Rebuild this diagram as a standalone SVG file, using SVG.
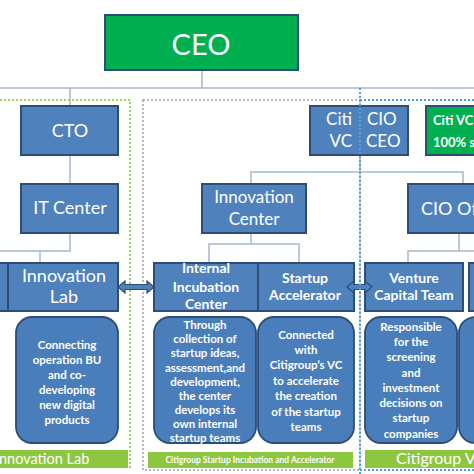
<svg xmlns="http://www.w3.org/2000/svg" width="474" height="474" viewBox="0 0 474 474">
<defs>
<style>
.box{fill:#4f81bd;stroke:#2c4d75;stroke-width:2}
.rbox{fill:#4a7ebb;stroke:#2c4d75;stroke-width:1.8}
.green{fill:#00b050;stroke:#2c4d75;stroke-width:2}
.lime{fill:#8dc63f;stroke:none}
.line{fill:none;stroke:#a6b8cd;stroke-width:1.5}
.arrow{fill:#4f81bd;stroke:#2c4d75;stroke-width:1.2}
text{font-family:Lato,"Open Sans","Liberation Sans",sans-serif;fill:#ffffff}
.t18{font-size:18px}
.t16{font-size:17px}
.t14{font-size:14px;font-weight:bold}
.t11{font-size:11.5px;font-weight:bold}
</style>
</defs>
<rect width="474" height="474" fill="#ffffff"/>

<!-- region borders -->
<g id="regions">
<polyline points="0,100 130,100 130,470" fill="none" stroke="#9bd250" stroke-width="2" stroke-dasharray="2,2"/>
<rect x="143" y="100" width="217" height="370" fill="none" stroke="#a0a0a0" stroke-width="1.5" stroke-dasharray="2,2"/>
<polyline points="360,100 476,100" fill="none" stroke="#4ba3dd" stroke-width="2" stroke-dasharray="2,2"/>
<polyline points="360,470 476,470" fill="none" stroke="#4ba3dd" stroke-width="2" stroke-dasharray="2,2"/>
</g>

<!-- connectors -->
<g id="connectors">
<line class="line" x1="0" y1="88" x2="474" y2="88"/>
<line class="line" x1="202" y1="70" x2="202" y2="88"/>
<line class="line" x1="70" y1="88" x2="70" y2="106"/>
<line class="line" x1="70" y1="155" x2="70" y2="184"/>
<polyline class="line" points="70,233 70,251 0,251"/>
<line class="line" x1="40" y1="251" x2="40" y2="263"/>
<line class="line" x1="360" y1="155" x2="360" y2="172"/>
<polyline class="line" points="251,184 251,172 463,172 463,184"/>
<polyline class="line" points="209,263 209,244 299,244 299,263"/>
<line class="line" x1="251" y1="233" x2="251" y2="244"/>
<polyline class="line" points="459,233 459,251 408,251 408,263"/>
<line class="line" x1="459" y1="251" x2="476" y2="251"/>
</g>

<g id="ceo">
<rect class="green" x="105" y="15" width="193" height="55"/>
<text x="201" y="55" font-size="29" text-anchor="middle">CEO</text>
</g>

<g id="cto">
<rect class="box" x="21" y="106" width="97" height="49"/>
<text class="t18" x="70" y="137" text-anchor="middle">CTO</text>
</g>

<g id="citivc-cio">
<rect class="box" x="310" y="106" width="98" height="49"/>
<text class="t16" x="352" y="125" text-anchor="end">Citi</text>
<text class="t16" x="352" y="147" text-anchor="end">VC</text>
<text class="t16" x="367" y="125">CIO</text>
<text class="t16" x="366" y="147">CEO</text>
</g>

<g id="citivc-sub">
<rect class="green" x="426" y="106" width="60" height="49"/>
<text x="433" y="125" font-size="13" font-weight="bold">Citi VC</text>
<text x="433" y="147" font-size="13" font-weight="bold">100% s</text>
</g>

<g id="it-center">
<rect class="box" x="21" y="184" width="97" height="49"/>
<text class="t18" x="70" y="214" text-anchor="middle">IT Center</text>
</g>

<g id="innovation-center">
<rect class="box" x="202" y="184" width="104" height="49"/>
<text class="t16" x="254" y="203" text-anchor="middle">Innovation</text>
<text class="t16" x="254" y="225" text-anchor="middle">Center</text>
</g>

<g id="cio-office">
<rect class="box" x="408" y="184" width="80" height="49"/>
<text class="t18" x="421" y="215">CIO Off</text>
</g>

<g id="left-stub">
<rect class="box" x="-10" y="263" width="18" height="48"/>
</g>

<g id="innovation-lab">
<rect class="box" x="8" y="263" width="110" height="48"/>
<text class="t18" x="64" y="282" text-anchor="middle">Innovation</text>
<text class="t18" x="64" y="303" text-anchor="middle">Lab</text>
</g>

<g id="internal-incubation">
<rect class="box" x="154" y="263" width="104" height="48"/>
<text class="t14" x="206" y="273" text-anchor="middle">Internal</text>
<text class="t14" x="206" y="292" text-anchor="middle">Incubation</text>
<text class="t14" x="206" y="309" text-anchor="middle">Center</text>
</g>

<g id="startup-accelerator">
<rect class="box" x="258" y="263" width="96" height="48"/>
<text class="t14" x="305" y="283" text-anchor="middle">Startup</text>
<text class="t14" x="305" y="300" text-anchor="middle">Accelerator</text>
</g>

<g id="venture-capital">
<rect class="box" x="365" y="263" width="98" height="48"/>
<text class="t14" x="414" y="283" text-anchor="middle">Venture</text>
<text class="t14" x="414" y="300" text-anchor="middle">Capital Team</text>
</g>

<g id="right-stub">
<rect class="box" x="469" y="263" width="20" height="48"/>
</g>

<g id="arrows">
<polygon class="arrow" points="118,287 125,281 125,284.5 147,284.5 147,281 154,287 147,293 147,289.5 125,289.5 125,293"/>
<polygon class="arrow" points="347,287 354,281 354,284.5 365,284.5 365,281 372,287 365,293 365,289.5 354,289.5 354,293"/>
</g>

<g id="desc-lab">
<rect class="rbox" x="16" y="317" width="102" height="126" rx="16"/>
<text class="t11" x="67" y="349" text-anchor="middle">Connecting</text>
<text class="t11" x="67" y="364" text-anchor="middle">operation BU</text>
<text class="t11" x="67" y="379" text-anchor="middle">and co-</text>
<text class="t11" x="67" y="394" text-anchor="middle">developing</text>
<text class="t11" x="67" y="409" text-anchor="middle">new digital</text>
<text class="t11" x="67" y="424" text-anchor="middle">products</text>
</g>

<g id="desc-incubation">
<rect class="rbox" x="154" y="317" width="102" height="126" rx="16"/>
<text class="t11" x="205" y="329" text-anchor="middle">Through</text>
<text class="t11" x="205" y="343" text-anchor="middle">collection of</text>
<text class="t11" x="205" y="357" text-anchor="middle">startup ideas,</text>
<text class="t11" x="205" y="372" text-anchor="middle">assessment,and</text>
<text class="t11" x="205" y="386" text-anchor="middle">development,</text>
<text class="t11" x="205" y="400" text-anchor="middle">the center</text>
<text class="t11" x="205" y="414" text-anchor="middle">develops its</text>
<text class="t11" x="205" y="428" text-anchor="middle">own internal</text>
<text class="t11" x="205" y="442" text-anchor="middle">startup teams</text>
</g>

<g id="desc-accelerator">
<rect class="rbox" x="258" y="317" width="96" height="126" rx="16"/>
<text class="t11" x="306" y="339" text-anchor="middle">Connected</text>
<text class="t11" x="306" y="354" text-anchor="middle">with</text>
<text class="t11" x="306" y="369" text-anchor="middle">Citigroup’s VC</text>
<text class="t11" x="306" y="385" text-anchor="middle">to accelerate</text>
<text class="t11" x="306" y="400" text-anchor="middle">the creation</text>
<text class="t11" x="306" y="416" text-anchor="middle">of the startup</text>
<text class="t11" x="306" y="431" text-anchor="middle">teams</text>
</g>

<g id="desc-venture">
<rect class="rbox" x="365" y="317" width="92" height="126" rx="16"/>
<text class="t11" x="411" y="331" text-anchor="middle">Responsible</text>
<text class="t11" x="411" y="346" text-anchor="middle">for the</text>
<text class="t11" x="411" y="361" text-anchor="middle">screening</text>
<text class="t11" x="411" y="377" text-anchor="middle">and</text>
<text class="t11" x="411" y="392" text-anchor="middle">investment</text>
<text class="t11" x="411" y="407" text-anchor="middle">decisions on</text>
<text class="t11" x="411" y="422" text-anchor="middle">startup</text>
<text class="t11" x="411" y="438" text-anchor="middle">companies</text>
</g>

<g id="desc-right">
<rect class="rbox" x="459" y="317" width="40" height="126" rx="16"/>
</g>

<g id="label-lab">
<rect class="lime" x="0" y="450" width="128" height="18"/>
<text x="-5" y="464" font-size="14.5">Innovation Lab</text>
</g>

<g id="label-incubation">
<rect class="lime" x="148" y="452" width="205" height="16"/>
<text x="250" y="463" font-size="8.5" font-weight="bold" text-anchor="middle">Citigroup Startup Incubation and Accelerator</text>
</g>

<g id="label-venture">
<rect class="lime" x="365" y="450" width="115" height="18"/>
<text x="396" y="464" font-size="16">Citigroup Ve</text>
</g>

<line x1="360" y1="88" x2="360" y2="474" stroke="#4ba3dd" stroke-width="2" stroke-dasharray="2,2"/>
</svg>
